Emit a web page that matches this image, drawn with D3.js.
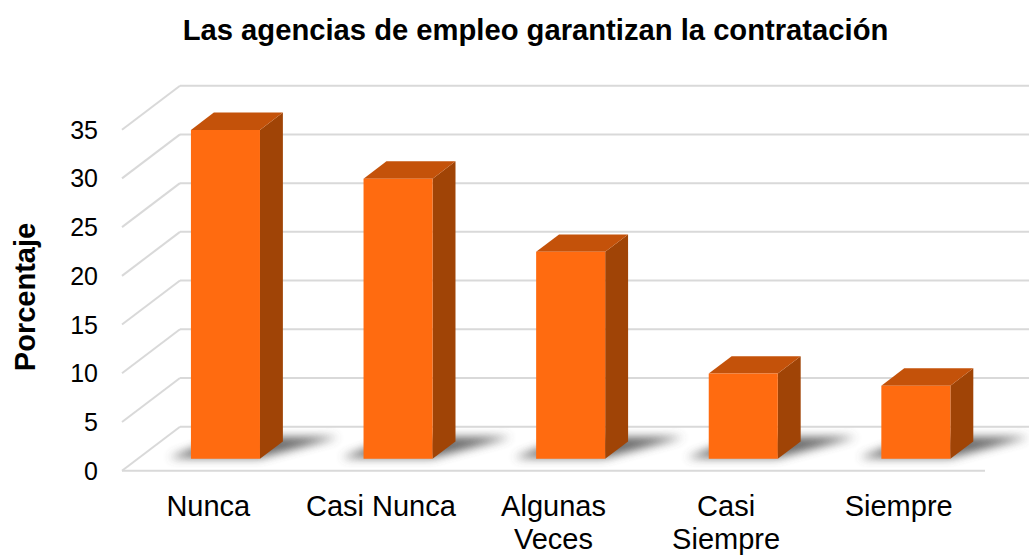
<!DOCTYPE html>
<html>
<head>
<meta charset="utf-8">
<script src="https://cdn.jsdelivr.net/npm/d3@7"></script>
<style>
  html, body { margin: 0; padding: 0; background: #fff; }
  svg { display: block; font-family: "Liberation Sans", Arial, sans-serif; }
</style>
</head>
<body>
<svg id="chart" width="1029" height="555"></svg>
<script>
const categories = ["Nunca", "Casi Nunca", "Algunas Veces", "Casi Siempre", "Siempre"];
const labelLines = [["Nunca"], ["Casi Nunca"], ["Algunas", "Veces"], ["Casi", "Siempre"], ["Siempre"]];
const values = [33.75, 28.75, 21.25, 8.75, 7.5];
const yTicks = [0, 5, 10, 15, 20, 25, 30, 35];
const title = "Las agencias de empleo garantizan la contratación";
const yTitle = "Porcentaje";

const svg = d3.select("#chart");
const W = 1029, H = 555;

// oblique depth offsets
const DX = 58, DY = 44;
const dFront = 0.27, dBack = 0.665;

const x = d3.scaleBand().domain(categories).range([123.5, 986.5]).paddingInner(0.6).paddingOuter(0.3);
const y = d3.scaleLinear().domain([0, 35]).range([470.7, 129.7]);

const defs = svg.append("defs");
defs.append("filter").attr("id", "blur").attr("x", "-50%").attr("y", "-100%").attr("width", "200%").attr("height", "300%")
  .append("feGaussianBlur").attr("stdDeviation", 5);

const grid = svg.append("g").attr("stroke", "#d9d9d9").attr("stroke-width", 2).attr("fill", "none");
const x0 = 122, x1 = 985;
// back wall lines
grid.selectAll("line.back").data(yTicks).join("line")
  .attr("x1", x0 + DX).attr("x2", x1 + DX)
  .attr("y1", d => y(d) - DY).attr("y2", d => y(d) - DY);
// side wall diagonals
grid.selectAll("line.diag").data(yTicks).join("line")
  .attr("x1", x0).attr("x2", x0 + DX)
  .attr("y1", d => y(d)).attr("y2", d => y(d) - DY);
// floor front edge
grid.append("line").attr("x1", x0).attr("x2", x1).attr("y1", y(0)).attr("y2", y(0));

const pt = (px, v, d) => [px + DX * d, y(v) - DY * d];
const poly = pts => pts.map(p => p.join(",")).join(" ");

const bars = svg.append("g");
categories.forEach((c, i) => {
  const v = values[i];
  const xl = x(c), xr = x(c) + x.bandwidth();
  const g = bars.append("g");
  // shadow
  const dS = dBack + 0.1;
  const s = [
    [xl - 22 + DX * dFront, y(0) - DY * dFront - 1],
    [xr + DX * dFront, y(0) - DY * dFront - 1],
    [xr + 50 + DX * dS, y(0) - DY * dS],
    [xl + 4 + DX * dS, y(0) - DY * dS]
  ];
  g.append("polygon").attr("points", poly(s)).attr("fill", "#505050").attr("opacity", 0.85).attr("filter", "url(#blur)");
  // side face
  g.append("polygon").attr("points", poly([pt(xr, 0, dFront), pt(xr, v, dFront), pt(xr, v, dBack), pt(xr, 0, dBack)]))
    .attr("fill", "#a04406");
  // top face
  g.append("polygon").attr("points", poly([pt(xl, v, dFront), pt(xr, v, dFront), pt(xr, v, dBack), pt(xl, v, dBack)]))
    .attr("fill", "#c4520a");
  // front face
  g.append("polygon").attr("points", poly([pt(xl, 0, dFront), pt(xr, 0, dFront), pt(xr, v, dFront), pt(xl, v, dFront)]))
    .attr("fill", "#ff6b10");
});

// y tick labels
svg.append("g").selectAll("text").data(yTicks).join("text")
  .attr("x", 98).attr("y", d => y(d)).attr("dy", "0.36em")
  .attr("text-anchor", "end").attr("font-size", 25).attr("fill", "#000")
  .text(d => d);

// category labels
const cl = svg.append("g").attr("font-size", 29).attr("fill", "#000").attr("text-anchor", "middle");
categories.forEach((c, i) => {
  const cx = x(c) + x.bandwidth() / 2 - 1.5;
  const t = cl.append("text").attr("x", cx).attr("y", 516);
  labelLines[i].forEach((ln, j) => {
    t.append("tspan").attr("x", cx).attr("dy", j === 0 ? 0 : 32.5).text(ln);
  });
});

// titles
svg.append("text").attr("x", 535.5).attr("y", 40).attr("text-anchor", "middle")
  .attr("font-size", 29.2).attr("font-weight", "bold").attr("fill", "#000").text(title);
svg.append("text").attr("transform", "translate(35,297) rotate(-90)").attr("text-anchor", "middle")
  .attr("font-size", 29).attr("font-weight", "bold").attr("fill", "#000").text(yTitle);
</script>
</body>
</html>
